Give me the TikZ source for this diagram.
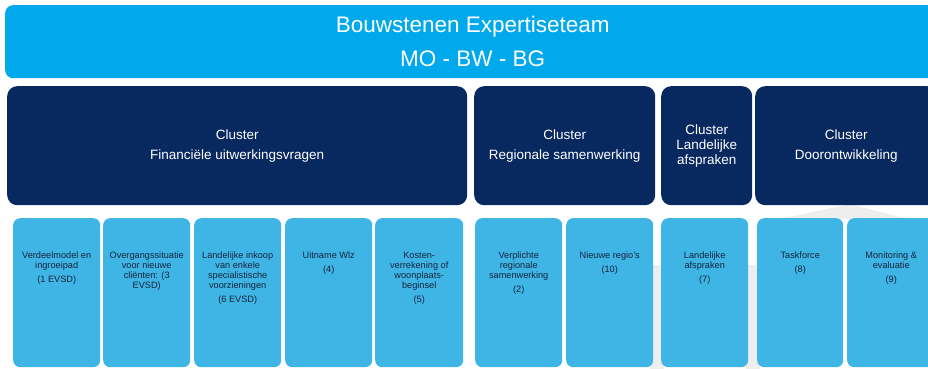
\documentclass[tikz,border=0pt]{standalone}
\usepackage{fontspec}
\setmainfont{Liberation Sans}
\usetikzlibrary{positioning}

\definecolor{bannerblue}{RGB}{0,168,236}
\definecolor{navy}{RGB}{8,40,96}
\definecolor{sky}{RGB}{62,181,228}
\definecolor{ink}{RGB}{22,36,62}

\begin{document}
\begin{tikzpicture}
        [x=1pt, y=-1pt,
        team/.style={fill=bannerblue, rounded corners=8pt, anchor=north west,
          minimum width=935pt, minimum height=73pt, text=white, align=center,
          font=\fontsize{22.5}{34}\selectfont},
        cluster/.style={fill=navy, rounded corners=10pt, anchor=north west,
          minimum height=119pt, text=white, align=center,
          font=\fontsize{13.5}{15}\selectfont},
        card/.style={fill=sky, rounded corners=7pt, anchor=north west,
          minimum height=149pt, inner sep=0pt},
        cardtext/.style={inner sep=0pt, text=ink, align=center,
          font=\fontsize{9.2}{10}\selectfont},
        watermark/.style={fill=gray!13}]

        \useasboundingbox (0,0) rectangle (928,369);
        \clip (0,0) rectangle (928,369);

        % faint logo in the background
        \fill[watermark] (780,219) -- (850,204) -- (908,219) -- cycle;
        \fill[watermark] (650,265) rectangle (664,369);
        \fill[watermark] (746,265) rectangle (760,369);

        % banner
        \node[team] (team) at (5,5) {Bouwstenen Expertiseteam\\MO - BW - BG};

        % clusters
        \node[cluster, minimum width=460pt] (c1) at (7,86)
          {Cluster\\[5pt]Financiële uitwerkingsvragen};
        \node[cluster, minimum width=181pt] (c2) at (474,86)
          {Cluster\\[5pt]Regionale samenwerking};
        \node[cluster, minimum width=91pt] (c3) at (661,86)
          {Cluster\\Landelijke\\afspraken};
        \node[cluster, minimum width=182pt] (c4) at (755,86)
          {Cluster\\[5pt]Doorontwikkeling};

        % building blocks
        \node[card, minimum width=87pt] (k1) at (13,218) {};
        \node[card, minimum width=87pt] (k2) at (103,218) {};
        \node[card, minimum width=87pt] (k3) at (194,218) {};
        \node[card, minimum width=87pt] (k4) at (285,218) {};
        \node[card, minimum width=88pt] (k5) at (375,218) {};
        \node[card, minimum width=87pt] (k6) at (475,218) {};
        \node[card, minimum width=87pt] (k7) at (566,218) {};
        \node[card, minimum width=87pt] (k8) at (661,218) {};
        \node[card, minimum width=86pt] (k9) at (757,218) {};
        \node[card, minimum width=88pt] (k10) at (847,218) {};

        % block texts
        \node[cardtext, below=34pt of k1.north] (t1)
          {Verdeelmodel en\\ingroeipad\\[4pt](1 EVSD)};
        \node[cardtext, below=34pt of k2.north] (t2)
          {Overgangssituatie\\voor nieuwe\\cliënten: (3\\EVSD)};
        \node[cardtext, below=34pt of k3.north] (t3)
          {Landelijke inkoop\\van enkele\\specialistische\\voorzieningen\\[4pt](6 EVSD)};
        \node[cardtext, below=34pt of k4.north] (t4)
          {Uitname Wlz\\[4pt](4)};
        \node[cardtext, below=34pt of k5.north] (t5)
          {Kosten-\\verrekening of\\woonplaats-\\beginsel\\[4pt](5)};
        \node[cardtext, below=34pt of k6.north] (t6)
          {Verplichte\\regionale\\samenwerking\\[4pt](2)};
        \node[cardtext, below=34pt of k7.north] (t7)
          {Nieuwe regio's\\[4pt](10)};
        \node[cardtext, below=34pt of k8.north] (t8)
          {Landelijke\\afspraken\\[4pt](7)};
        \node[cardtext, below=34pt of k9.north] (t9)
          {Taskforce\\[4pt](8)};
        \node[cardtext, below=34pt of k10.north] (t10)
          {Monitoring \&\\evaluatie\\[4pt](9)};

    \end{tikzpicture}
\end{document}
